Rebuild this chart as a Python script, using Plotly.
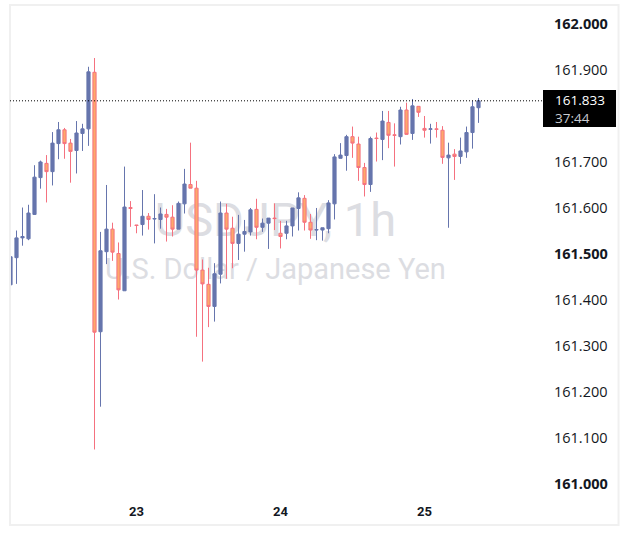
import pandas as pd
import plotly.graph_objects as go

# ---------------- data (USDJPY, 1h) ----------------
start_time = "2024-07-22 03:00"
n_candles = 79

opens = [161.433, 161.492, 161.535, 161.533, 161.586, 161.666, 161.697, 161.679, 161.740, 161.770,
         161.741, 161.725, 161.762, 161.772, 161.895, 161.331, 161.505, 161.554, 161.501, 161.420,
         161.601, 161.563, 161.564, 161.582, 161.576, 161.575, 161.586, 161.580, 161.554, 161.609,
         161.651, 161.643, 161.465, 161.434, 161.386, 161.456, 161.589, 161.556, 161.523, 161.543,
         161.548, 161.597, 161.558, 161.567, 161.578, 161.545, 161.545, 161.561, 161.599, 161.621,
         161.569, 161.552, 161.552, 161.555, 161.609, 161.708, 161.714, 161.755, 161.739, 161.688,
         161.651, 161.752, 161.749, 161.786, 161.759, 161.755, 161.813, 161.762, 161.821, 161.773,
         161.771, 161.772, 161.769, 161.709, 161.717, 161.712, 161.722, 161.764, 161.818]
highs = [161.568, 161.551, 161.601, 161.607, 161.693, 161.703, 161.715, 161.765, 161.787, 161.774,
         161.750, 161.789, 161.783, 161.907, 161.926, 161.548, 161.650, 161.568, 161.525, 161.690,
         161.615, 161.563, 161.639, 161.589, 161.630, 161.601, 161.598, 161.606, 161.614, 161.685,
         161.742, 161.659, 161.488, 161.470, 161.480, 161.614, 161.609, 161.581, 161.585, 161.574,
         161.600, 161.620, 161.577, 161.578, 161.610, 161.572, 161.572, 161.600, 161.634, 161.628,
         161.587, 161.600, 161.557, 161.617, 161.717, 161.741, 161.759, 161.777, 161.755, 161.698,
         161.755, 161.764, 161.811, 161.811, 161.784, 161.820, 161.829, 161.837, 161.821, 161.800,
         161.783, 161.787, 161.778, 161.742, 161.728, 161.753, 161.777, 161.833, 161.839]
lows = [161.418, 161.435, 161.518, 161.530, 161.585, 161.642, 161.612, 161.649, 161.706, 161.707,
        161.655, 161.675, 161.724, 161.735, 161.075, 161.168, 161.478, 161.485, 161.401, 161.420,
        161.559, 161.545, 161.540, 161.553, 161.523, 161.555, 161.527, 161.538, 161.554, 161.588,
        161.643, 161.320, 161.266, 161.341, 161.353, 161.436, 161.446, 161.469, 161.487, 161.505,
        161.540, 161.532, 161.548, 161.511, 161.552, 161.512, 161.532, 161.538, 161.551, 161.551,
        161.533, 161.530, 161.529, 161.545, 161.575, 161.708, 161.681, 161.709, 161.659, 161.625,
        161.635, 161.701, 161.704, 161.730, 161.690, 161.738, 161.760, 161.748, 161.798, 161.753,
        161.740, 161.753, 161.696, 161.557, 161.661, 161.696, 161.709, 161.729, 161.785]
closes = [161.494, 161.535, 161.538, 161.589, 161.667, 161.700, 161.679, 161.741, 161.770, 161.740,
          161.723, 161.763, 161.772, 161.896, 161.330, 161.507, 161.554, 161.504, 161.422, 161.602,
          161.599, 161.562, 161.582, 161.575, 161.577, 161.587, 161.580, 161.554, 161.610, 161.652,
          161.643, 161.465, 161.435, 161.386, 161.457, 161.589, 161.554, 161.523, 161.543, 161.549,
          161.596, 161.558, 161.567, 161.578, 161.577, 161.538, 161.561, 161.600, 161.622, 161.569,
          161.552, 161.553, 161.557, 161.611, 161.711, 161.715, 161.755, 161.741, 161.688, 161.651,
          161.751, 161.751, 161.789, 161.758, 161.758, 161.813, 161.760, 161.822, 161.808, 161.769,
          161.772, 161.771, 161.710, 161.715, 161.712, 161.724, 161.764, 161.820, 161.833]

last_price = 161.833
countdown = "37:44"
symbol_text = "USDJPY, 1h"
description_text = "U.S. Dollar / Japanese Yen"

# 161.800 is hidden behind the last-price label in the reference
price_ticks = [161.0, 161.1, 161.2, 161.3, 161.4, 161.5, 161.6, 161.7, 161.9, 162.0]
bold_prices = [161.0, 161.5, 162.0]
date_ticks = ["2024-07-23", "2024-07-24", "2024-07-25"]
date_labels = ["23", "24", "25"]

times = pd.date_range(start_time, periods=n_candles, freq="h")

# ---------------- styles ----------------
UP = "#6675AD"
DOWN_FILL = "#FDA86B"
DOWN_LINE = "#F5717F"
TEXT = "#131722"
WM = "#DCDDE2"

fig = go.Figure()

# watermark on the base subplot (drawn below candles)
fig.add_trace(go.Scatter(
    x=[0.498, 0.498], y=[0.556, 0.459],
    mode="text", text=[symbol_text, description_text],
    textposition="middle center",
    textfont=dict(family="Roboto", size=[47, 29], color=WM),
    hoverinfo="skip", showlegend=False, xaxis="x", yaxis="y",
))

fig.add_trace(go.Candlestick(
    x=times, open=opens, high=highs, low=lows, close=closes,
    increasing=dict(line=dict(color=UP, width=1), fillcolor=UP),
    decreasing=dict(line=dict(color=DOWN_LINE, width=1), fillcolor=DOWN_FILL),
    whiskerwidth=0, showlegend=False, xaxis="x2", yaxis="y2",
))

tick_text = [("<b>%.3f</b>" % p) if p in bold_prices else ("%.3f" % p) for p in price_ticks]

x_left = pd.Timestamp(start_time) - pd.Timedelta(minutes=5)
x_right = pd.Timestamp(start_time) + pd.Timedelta(hours=88, minutes=45)

fig.update_layout(
    width=629, height=547,
    margin=dict(l=10, r=86, t=6, b=50),
    paper_bgcolor="white", plot_bgcolor="white",
    showlegend=False,
    boxgap=0.25,
    xaxis=dict(range=[0, 1], visible=False, fixedrange=True),
    yaxis=dict(range=[0, 1], visible=False, fixedrange=True),
    xaxis2=dict(
        overlaying="x", type="date", range=[x_left, x_right],
        tickvals=date_ticks, ticktext=["<b>%s</b>" % t for t in date_labels],
        tickfont=dict(family="Roboto", size=13, color=TEXT),
        showgrid=False, zeroline=False, showline=False, ticks="",
        ticklabelstandoff=5, rangeslider=dict(visible=False),
    ),
    yaxis2=dict(
        overlaying="y", side="right", range=[160.9717, 162.0391],
        tickvals=price_ticks, ticktext=tick_text,
        tickfont=dict(family="Open Sans", size=14.5, color=TEXT),
        showgrid=False, zeroline=False, showline=False, ticks="",
        ticklabelstandoff=10,
    ),
)

# outer frame
fig.add_shape(type="rect", xref="paper", yref="paper",
              x0=0, x1=1.1417, y0=-0.057, y1=1.002,
              line=dict(color="#F0F0F0", width=2), layer="above")
# last price dotted line
fig.add_shape(type="line", xref="paper", yref="y2",
              x0=0, x1=1, y0=last_price, y1=last_price,
              line=dict(color="#000000", width=1, dash="1px,2px"), layer="above")
# last price label box
fig.add_shape(type="rect", xref="paper", yref="paper",
              x0=1.0, x1=1.137, y0=0.7536, y1=0.8289,
              fillcolor="#000000", line=dict(width=0), layer="above")
fig.add_annotation(xref="paper", yref="paper", x=1.0188, y=0.7905,
                   xanchor="left", yanchor="middle", showarrow=False, align="left",
                   text=("%.3f<br><span style='color:#C9CBD1'>%s</span>" % (last_price, countdown)),
                   font=dict(family="Open Sans", size=13.5, color="#FFFFFF"))

fig.write_html("out.html")
